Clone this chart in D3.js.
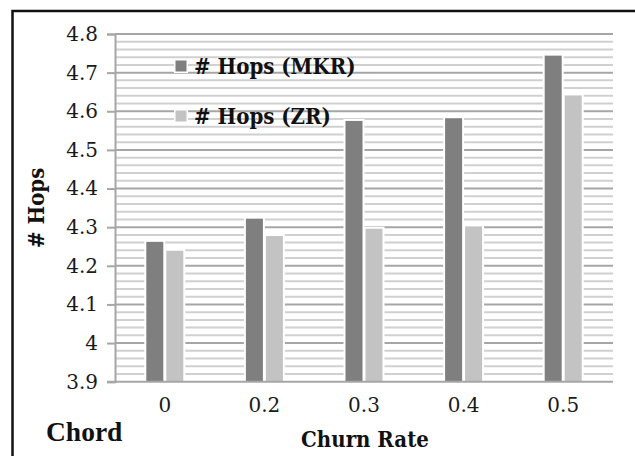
<!DOCTYPE html>
<html>
<head>
<meta charset="utf-8">
<script src="https://cdn.jsdelivr.net/npm/d3@7"></script>
<style>
  html, body { margin: 0; padding: 0; background: #fff; }
  svg { display: block; }
  .tick-label { font-family: "DejaVu Serif", serif; font-size: 20px; fill: #1a1a1a; }
  .bold-label { font-family: "DejaVu Serif Condensed", "DejaVu Serif", serif; font-stretch: condensed; font-weight: bold; fill: #111; }
</style>
</head>
<body>
<svg id="chart" width="635" height="456"></svg>
<script>
// Hop counts per churn rate for the two routing schemes
const categories = ["0", "0.2", "0.3", "0.4", "0.5"];
const seriesNames = ["# Hops (MKR)", "# Hops (ZR)"];
const mkrValues = [4.262, 4.322, 4.575, 4.582, 4.744];
const zrValues = [4.239, 4.277, 4.296, 4.302, 4.641];
const yTicks = [3.9, 4, 4.1, 4.2, 4.3, 4.4, 4.5, 4.6, 4.7, 4.8];
const yTickLabels = ["3.9", "4", "4.1", "4.2", "4.3", "4.4", "4.5", "4.6", "4.7", "4.8"];
const minorTicks = [3.92, 3.94, 3.96, 3.98, 4.02, 4.04, 4.06, 4.08, 4.12, 4.14, 4.16, 4.18,
  4.22, 4.24, 4.26, 4.28, 4.32, 4.34, 4.36, 4.38, 4.42, 4.44, 4.46, 4.48,
  4.52, 4.54, 4.56, 4.58, 4.62, 4.64, 4.66, 4.68, 4.72, 4.74, 4.76, 4.78];

const colors = ["#7f7f7f", "#c3c3c3"];
const svg = d3.select("#chart");

// Outer frame
svg.append("rect")
  .attr("x", 12.5).attr("y", 11)
  .attr("width", 700).attr("height", 600)
  .attr("fill", "none").attr("stroke", "#111").attr("stroke-width", 2.5);

const plot = { left: 115, right: 613, top: 34, bottom: 381.7 };

const y = d3.scaleLinear().domain([3.9, 4.8]).range([plot.bottom, plot.top]);
const x0 = d3.scaleBand().domain(categories).range([plot.left, plot.right]).padding(0);
const bw = x0.bandwidth();
const x1 = d3.scaleBand().domain(seriesNames)
  .range([bw / 2 - 18.5, bw / 2 + 18.5]).paddingInner(0.15);

// Minor gridlines
svg.append("g").selectAll("line").data(minorTicks).join("line")
  .attr("x1", plot.left).attr("x2", plot.right)
  .attr("y1", d => y(d)).attr("y2", d => y(d))
  .attr("stroke", "#d0d0d0").attr("stroke-width", 2);

// Major gridlines
svg.append("g").selectAll("line").data(yTicks.slice(1)).join("line")
  .attr("x1", plot.left).attr("x2", plot.right)
  .attr("y1", d => y(d)).attr("y2", d => y(d))
  .attr("stroke", "#a6a6a6").attr("stroke-width", 2);

// Y axis with outward ticks
const yAxis = d3.axisLeft(y).tickValues(yTicks)
  .tickFormat((d, i) => yTickLabels[i]).tickSize(8).tickPadding(9);
const gy = svg.append("g").attr("transform", `translate(${plot.left},0)`).call(yAxis);
gy.select(".domain").attr("stroke", "#a6a6a6").attr("stroke-width", 2);
gy.selectAll(".tick line").attr("stroke", "#a6a6a6").attr("stroke-width", 2);
gy.selectAll(".tick text").attr("class", "tick-label").attr("fill", "#1a1a1a");

// Bars, each with a white halo
const rows = categories.map((c, i) => ({ cat: c, vals: [mkrValues[i], zrValues[i]] }));
const groups = svg.append("g").selectAll("g").data(rows).join("g")
  .attr("transform", d => `translate(${x0(d.cat)},0)`);
const cells = groups.selectAll("g").data(d => d.vals.map((v, j) => ({ v, s: seriesNames[j], j })))
  .join("g");
cells.append("rect")
  .attr("x", d => x1(d.s) - 2).attr("width", x1.bandwidth() + 4)
  .attr("y", d => y(d.v) - 2).attr("height", d => y(3.9) - y(d.v) + 2)
  .attr("fill", "#fff");
cells.append("rect")
  .attr("x", d => x1(d.s)).attr("width", x1.bandwidth())
  .attr("y", d => y(d.v)).attr("height", d => y(3.9) - y(d.v))
  .attr("fill", d => colors[d.j]);

// X axis
const xAxis = d3.axisBottom(x0).tickSize(0).tickPadding(16);
const gx = svg.append("g").attr("transform", `translate(0,${plot.bottom})`).call(xAxis);
gx.select(".domain").attr("stroke", "#a6a6a6").attr("stroke-width", 2)
  .attr("d", `M${plot.left - 8},0H${plot.right}`);
gx.selectAll(".tick text").attr("class", "tick-label").attr("fill", "#1a1a1a");

// Legend
const legend = svg.append("g");
const legendY = [66, 116];
seriesNames.forEach((name, i) => {
  legend.append("rect").attr("x", 174).attr("y", legendY[i] - 7).attr("width", 14).attr("height", 14)
    .attr("fill", "#fff");
  legend.append("rect").attr("x", 175.5).attr("y", legendY[i] - 5.5).attr("width", 11).attr("height", 11)
    .attr("fill", colors[i]);
  legend.append("text").attr("class", "bold-label")
    .attr("x", 194).attr("y", legendY[i] + 7.5)
    .attr("font-size", 22).text(name);
});

// Axis titles
svg.append("text").attr("class", "bold-label")
  .attr("transform", `translate(44,${(plot.top + plot.bottom) / 2}) rotate(-90)`)
  .attr("text-anchor", "middle").attr("font-size", 22).text("# Hops");
svg.append("text").attr("class", "bold-label")
  .attr("x", 365).attr("y", 447).attr("text-anchor", "middle")
  .attr("font-size", 22).text("Churn Rate");
svg.append("text")
  .attr("x", 46).attr("y", 441)
  .attr("font-family", "Liberation Serif, serif").attr("font-weight", "bold")
  .attr("font-size", 27.5).attr("fill", "#111").text("Chord");
</script>
</body>
</html>
